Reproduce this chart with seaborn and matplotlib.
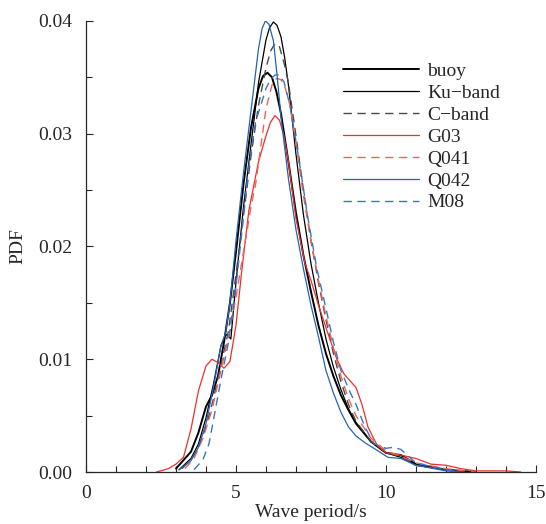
import numpy as np
import pandas as pd
import matplotlib
matplotlib.use("Agg")
import matplotlib.pyplot as plt
import seaborn as sns
from matplotlib.ticker import MultipleLocator

# values
buoy_t = [3.0, 3.5, 3.75, 4.0, 4.2, 4.4, 4.6, 4.8, 5.0, 5.25, 5.5, 5.75, 5.9, 6.05, 6.2, 6.35, 6.5, 6.75, 7.0, 7.25,
          7.5, 7.75, 8.0, 8.25, 8.5, 8.75, 9.0, 9.5, 10.0, 10.5, 11.0, 12.0, 13.0]
buoy_pdf = [0.0003, 0.0018, 0.0035, 0.0058, 0.0068, 0.0085, 0.0115, 0.0150, 0.0195, 0.0255, 0.0305, 0.0340, 0.0351,
            0.0354, 0.0350, 0.0337, 0.0318, 0.0275, 0.0230, 0.0192, 0.0160, 0.0130, 0.0105, 0.0085, 0.0068, 0.0055,
            0.0043, 0.0027, 0.0017, 0.0015, 0.0007, 0.0002, 0.0]

ku_t = [3.1, 3.5, 3.75, 4.0, 4.25, 4.5, 4.67, 4.83, 5.0, 5.25, 5.5, 5.75, 6.0, 6.12, 6.25, 6.37, 6.5, 6.62, 6.75, 7.0,
        7.25, 7.5, 7.75, 8.0, 8.25, 8.5, 8.75, 9.0, 9.5, 10.0, 10.5, 11.0, 12.0, 12.8]
ku_pdf = [0.0002, 0.0012, 0.0025, 0.0048, 0.0078, 0.0112, 0.0122, 0.0118, 0.0168, 0.0235, 0.0290, 0.0345, 0.0383,
          0.0394, 0.0399, 0.0396, 0.0386, 0.0368, 0.0343, 0.0282, 0.0228, 0.0185, 0.0150, 0.0118, 0.0093, 0.0073,
          0.0056, 0.0044, 0.0027, 0.0017, 0.0013, 0.0006, 0.0002, 0.0]

cband_t = [3.2, 3.5, 3.75, 4.0, 4.25, 4.5, 4.75, 5.0, 5.33, 5.5, 5.75, 6.0, 6.15, 6.3, 6.45, 6.6, 6.75, 7.0, 7.25, 7.5,
           7.75, 8.0, 8.25, 8.5, 8.75, 9.0, 9.5, 10.0, 10.5, 11.0, 12.0, 12.8]
cband_pdf = [0.0003, 0.0011, 0.0022, 0.0040, 0.0065, 0.0095, 0.0125, 0.0175, 0.0244, 0.0280, 0.0325, 0.0358, 0.0373,
             0.0380, 0.0377, 0.0363, 0.0345, 0.0298, 0.0250, 0.0205, 0.0168, 0.0135, 0.0105, 0.0080, 0.0060, 0.0045,
             0.0027, 0.0018, 0.0013, 0.0006, 0.0002, 0.0]

g03_t = [2.35, 2.75, 3.0, 3.25, 3.5, 3.75, 4.0, 4.2, 4.4, 4.6, 4.8, 5.0, 5.2, 5.43, 5.75, 6.0, 6.15, 6.3, 6.45, 6.6,
         6.75, 7.0, 7.3, 7.5, 7.75, 8.0, 8.35, 8.6, 8.8, 9.0, 9.2, 9.4, 9.7, 10.0, 10.5, 11.0, 11.5, 12.0, 12.5, 13.0,
         14.0, 14.5]
g03_pdf = [0.0, 0.0003, 0.0007, 0.0013, 0.0038, 0.0072, 0.0094, 0.0100, 0.0097, 0.0092, 0.0098, 0.0130, 0.0180,
           0.0232, 0.0275, 0.0298, 0.0310, 0.0316, 0.0312, 0.0298, 0.0275, 0.0225, 0.0185, 0.0170, 0.0148, 0.0128,
           0.0101, 0.0087, 0.0081, 0.0075, 0.0060, 0.0040, 0.0024, 0.0017, 0.0015, 0.0012, 0.0007, 0.0006, 0.0003,
           0.0001, 0.0001, 0.0]

q041_t = [3.3, 3.6, 3.9, 4.2, 4.5, 4.75, 5.0, 5.25, 5.5, 5.66, 6.0, 6.2, 6.35, 6.5, 6.65, 6.8, 7.0, 7.25, 7.5, 7.75,
          8.0, 8.25, 8.5, 8.75, 9.0, 9.5, 10.0, 10.5, 11.0, 12.0, 13.0]
q041_pdf = [0.0003, 0.0012, 0.0030, 0.0055, 0.0090, 0.0120, 0.0155, 0.0195, 0.0235, 0.0256, 0.0322, 0.0343, 0.0349,
            0.0348, 0.0340, 0.0325, 0.0292, 0.0245, 0.0205, 0.0170, 0.0138, 0.0110, 0.0085, 0.0065, 0.0050, 0.0030,
            0.0019, 0.0014, 0.0008, 0.0003, 0.0]

q042_t = [3.1, 3.5, 3.75, 4.0, 4.25, 4.5, 4.65, 4.8, 5.0, 5.25, 5.5, 5.75, 5.87, 5.98, 6.1, 6.25, 6.37, 6.5, 6.75, 7.0,
          7.25, 7.5, 7.75, 8.0, 8.25, 8.5, 8.75, 9.0, 9.3, 9.6, 10.07, 10.5, 11.0, 12.0, 12.5]
q042_pdf = [0.0002, 0.0010, 0.0022, 0.0043, 0.0075, 0.0112, 0.0123, 0.0150, 0.0205, 0.0265, 0.0320, 0.0375, 0.0393,
            0.0400, 0.0397, 0.0382, 0.0352, 0.0315, 0.0260, 0.0215, 0.0180, 0.0148, 0.0120, 0.0090, 0.0070, 0.0053,
            0.0040, 0.0032, 0.0026, 0.0021, 0.0013, 0.0012, 0.0006, 0.0001, 0.0]

m08_t = [3.6, 3.9, 4.1, 4.27, 4.5, 4.75, 5.0, 5.17, 5.4, 5.65, 6.0, 6.15, 6.3, 6.45, 6.6, 6.8, 7.1, 7.4, 7.7, 8.0,
         8.25, 8.5, 8.8, 9.0, 9.3, 9.6, 10.0, 10.25, 10.5, 11.0, 12.0, 12.5]
m08_pdf = [0.0002, 0.0011, 0.0025, 0.0049, 0.0082, 0.0115, 0.0165, 0.0206, 0.0265, 0.0310, 0.0340, 0.0348, 0.0352,
           0.0352, 0.0346, 0.0325, 0.0277, 0.0225, 0.0180, 0.0145, 0.0115, 0.0090, 0.0071, 0.0060, 0.0040, 0.0025,
           0.0021, 0.0022, 0.0020, 0.0008, 0.0002, 0.0]

series = [
    ("buoy", buoy_t, buoy_pdf, "black", "-", 1.4),
    ("Ku\u2212band", ku_t, ku_pdf, "black", "-", 0.9),
    ("C\u2212band", cband_t, cband_pdf, "#4a4a4a", (0, (6, 4)), 1.0),
    ("G03", g03_t, g03_pdf, "#e8322a", "-", 0.9),
    ("Q041", q041_t, q041_pdf, "#ef6258", (0, (6, 4)), 1.0),
    ("Q042", q042_t, q042_pdf, "#2463b4", "-", 0.9),
    ("M08", m08_t, m08_pdf, "#3a74c4", (0, (6, 4)), 1.0),
]

sns.set_style("ticks")
plt.rcParams["font.family"] = ["Liberation Serif", "DejaVu Serif"]
plt.rcParams["axes.unicode_minus"] = False

fig = plt.figure(figsize=(5.46, 5.24), dpi=100)
ax = fig.add_axes([0.1575, 0.0992, 0.824, 0.861])

for name, t, p, col, ls, lw in series:
    df = pd.DataFrame({"T": t, "PDF": p})
    sns.lineplot(data=df, x="T", y="PDF", ax=ax, color=col, linestyle=ls, linewidth=lw, label=name)

ax.set_xlim(0, 15)
ax.set_ylim(0, 0.04)
ax.xaxis.set_major_locator(MultipleLocator(5))
ax.xaxis.set_minor_locator(MultipleLocator(1))
ax.yaxis.set_major_locator(MultipleLocator(0.01))
ax.yaxis.set_minor_locator(MultipleLocator(0.005))
ax.yaxis.set_major_formatter(matplotlib.ticker.FormatStrFormatter("%.2f"))
ax.tick_params(which="major", direction="in", length=5, width=0.8, labelsize=14)
ax.tick_params(axis="y", which="major", pad=10)
ax.tick_params(axis="x", which="major", pad=9)
ax.tick_params(which="minor", direction="in", length=4, width=0.8)
sns.despine(ax=ax)
for s in ["left", "bottom"]:
    ax.spines[s].set_linewidth(0.9)
ax.set_xlabel("Wave period/s", fontsize=14, labelpad=2)
ax.set_ylabel("PDF", fontsize=14, labelpad=8)

ax.legend(loc="upper left", bbox_to_anchor=(0.555, 0.925), frameon=False, fontsize=14,
          handlelength=3.9, handletextpad=0.4, labelspacing=0.22, borderaxespad=0)

fig.savefig("out.png", dpi=100)
